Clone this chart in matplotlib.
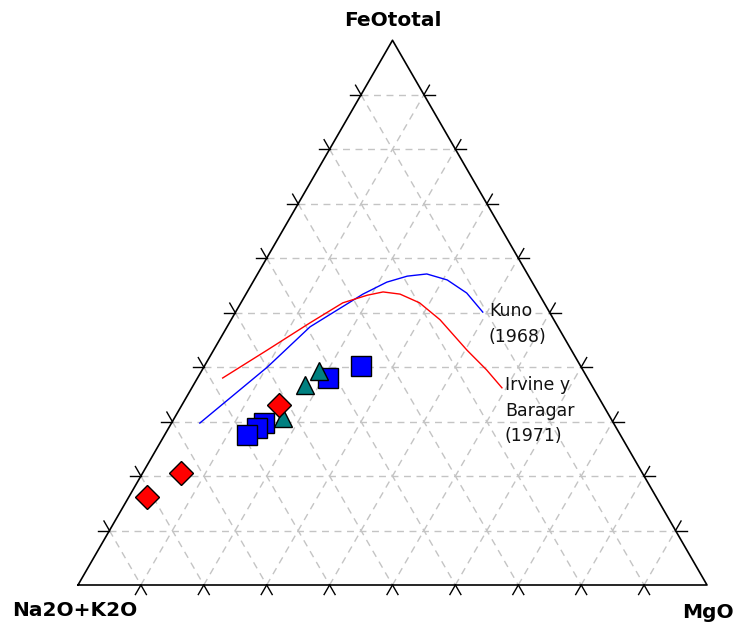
import numpy as np
import matplotlib
matplotlib.use("Agg")
import matplotlib.pyplot as plt

# vertices: Na2O+K2O (bottom-left), MgO (bottom-right), FeOtotal (top)
vertex_labels = ["Na2O+K2O", "MgO", "FeOtotal"]

# samples (%)
diam_alk = [81.0, 73.3, 51.5]
diam_feo = [16.2, 20.6, 33.0]
diam_mgo = [2.9, 6.1, 15.5]

sq_alk = [55.6, 57.1, 59.4, 41.2, 34.9]
sq_feo = [29.7, 28.8, 27.5, 38.0, 40.2]
sq_mgo = [14.7, 14.1, 13.1, 20.8, 24.9]

tri_alk = [42.0, 45.6, 52.1]
tri_feo = [39.3, 36.7, 30.7]
tri_mgo = [18.7, 17.7, 17.2]

# dividing lines tholeiitic / calc-alkaline
kuno_alk = [65.7, 49.9, 39.4, 28.0, 23.1, 19.3, 16.0, 13.3, 11.4, 10.6]
kuno_feo = [29.7, 40.0, 47.4, 53.4, 55.6, 56.7, 57.1, 56.0, 53.6, 50.1]
kuno_mgo = [4.5, 10.1, 13.2, 18.6, 21.3, 24.0, 26.9, 30.7, 35.0, 39.3]

irv_alk = [58.0, 48.4, 39.1, 32.0, 27.4, 24.6, 22.1, 19.8, 18.1, 16.6, 15.3, 14.5]
irv_feo = [38.0, 43.1, 48.1, 51.8, 53.2, 53.8, 53.4, 51.8, 48.7, 43.1, 39.5, 36.2]
irv_mgo = [4.0, 8.5, 12.8, 16.2, 19.4, 21.6, 24.5, 28.4, 33.2, 40.3, 45.2, 49.3]

kuno_label = "Kuno\n(1968)"
irv_label = "Irvine y\nBaragar\n(1971)"


def tern(alk, feo, mgo):
    a = np.asarray(alk, float)
    f = np.asarray(feo, float)
    m = np.asarray(mgo, float)
    s = a + f + m
    f, m = f / s, m / s
    return m + f / 2, f * np.sqrt(3) / 2


fig = plt.figure(figsize=(7.35, 6.26), dpi=100)
ax = fig.add_axes([0, 0, 1, 1])
ax.set_xlim(-78 / 629, 657 / 629)
ax.set_ylim(-41 / 629, 585 / 629)
ax.axis("off")

# grid (dashed) every 10 %
for i in range(1, 10):
    v = i * 10
    for p, q in [((100 - v, v, 0), (0, v, 100 - v)),
                 ((100 - v, 0, v), (0, 100 - v, v)),
                 ((v, 100 - v, 0), (v, 0, 100 - v))]:
        x, y = tern([p[0], q[0]], [p[1], q[1]], [p[2], q[2]])
        ax.plot(x, y, color="#c4c4c4", lw=1, ls=(0, (5, 4)), zorder=1)

# triangle outline
x, y = tern([100, 0, 0, 100], [0, 0, 100, 0], [0, 100, 0, 0])
ax.plot(x, y, color="black", lw=1.2, zorder=2)

# ticks: short outward extensions of the grid lines
tl = 11 / 629
c60 = np.cos(np.radians(60))
s60 = np.sin(np.radians(60))
for i in range(1, 10):
    v = i * 10
    # left edge
    x, y = tern([100 - v], [v], [0])
    ax.plot([x[0], x[0] - tl], [y[0], y[0]], color="black", lw=1, zorder=2)
    ax.plot([x[0], x[0] - tl * c60], [y[0], y[0] + tl * s60], color="black", lw=1, zorder=2)
    # right edge
    x, y = tern([0], [v], [100 - v])
    ax.plot([x[0], x[0] + tl], [y[0], y[0]], color="black", lw=1, zorder=2)
    ax.plot([x[0], x[0] + tl * c60], [y[0], y[0] + tl * s60], color="black", lw=1, zorder=2)
    # bottom edge
    x, y = tern([100 - v], [0], [v])
    ax.plot([x[0], x[0] - tl * c60], [y[0], y[0] - tl * s60], color="black", lw=1, zorder=2)
    ax.plot([x[0], x[0] + tl * c60], [y[0], y[0] - tl * s60], color="black", lw=1, zorder=2)

# curves
kx, ky = tern(kuno_alk, kuno_feo, kuno_mgo)
ax.plot(kx, ky, color="#0000ff", lw=1, zorder=3)
ix, iy = tern(irv_alk, irv_feo, irv_mgo)
ax.plot(ix, iy, color="#ff0000", lw=1, zorder=3)

ax.annotate(kuno_label, (kx[-1], ky[-1]), xytext=(6, 10), textcoords="offset pixels",
            ha="left", va="top", fontsize=12.5, linespacing=1.55, color="#111111")
ax.annotate(irv_label, (ix[-1], iy[-1]), xytext=(3, 12), textcoords="offset pixels",
            ha="left", va="top", fontsize=12.5, linespacing=1.55, color="#111111")

# samples
x, y = tern(sq_alk, sq_feo, sq_mgo)
ax.plot(x, y, ls="none", marker="s", ms=15, mfc="#0000ff", mec="black", mew=1, zorder=4)
x, y = tern(tri_alk, tri_feo, tri_mgo)
ax.plot(x, y, ls="none", marker="^", ms=13, mfc="#008080", mec="black", mew=1, zorder=5)
x, y = tern(diam_alk, diam_feo, diam_mgo)
ax.plot(x, y, ls="none", marker="D", ms=12.5, mfc="#ff0000", mec="black", mew=1, zorder=6)

# vertex labels
vx, vy = tern([100, 0, 0], [0, 0, 100], [0, 100, 0])
offs = [(-3, -25), (1, -27), (0, 20)]
for lab, xx, yy, off in zip(vertex_labels, vx, vy, offs):
    ax.annotate(lab, (xx, yy), xytext=off, textcoords="offset pixels",
                ha="center", va="center", fontsize=14.5, fontweight="bold")

fig.savefig("out.png", dpi=100)
